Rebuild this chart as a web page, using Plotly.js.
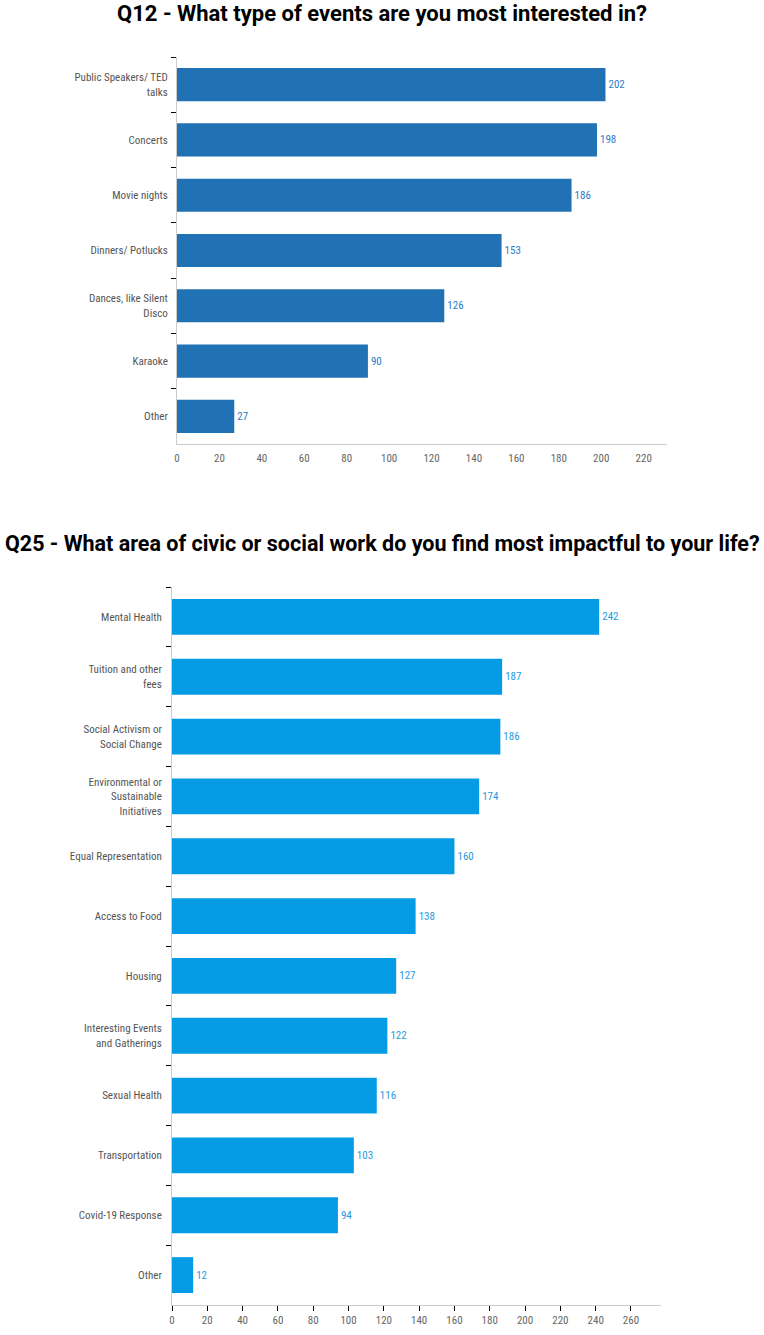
<!DOCTYPE html>
<html>
<head>
<meta charset="utf-8">
<script src="https://cdn.plot.ly/plotly-3.0.1.min.js"></script>
<style>html,body{margin:0;padding:0;background:#fff;}#chart{width:764px;height:1335px;}</style>
</head>
<body>
<div id="chart"></div>
<script>
const q12Title = "Q12 - What type of events are you most interested in?";
const q12Categories = ["Public Speakers/ TED<br>talks", "Concerts", "Movie nights", "Dinners/ Potlucks", "Dances, like Silent<br>Disco", "Karaoke", "Other"];
const q12Values = [202, 198, 186, 153, 126, 90, 27];

const q25Title = "Q25 - What area of civic or social work do you find most impactful to your life?";
const q25Categories = ["Mental Health", "Tuition and other<br>fees", "Social Activism or<br>Social Change", "Environmental or<br>Sustainable<br>Initiatives", "Equal Representation", "Access to Food", "Housing", "Interesting Events<br>and Gatherings", "Sexual Health", "Transportation", "Covid-19 Response", "Other"];
const q25Values = [242, 187, 186, 174, 160, 138, 127, 122, 116, 103, 94, 12];

const FONT = "'Liberation Sans Narrow', 'Roboto Condensed', Roboto, sans-serif";
const H = 1335, W = 764;

const traces = [
  {
    type: 'bar', orientation: 'h',
    x: q12Values, y: q12Categories,
    xaxis: 'x', yaxis: 'y',
    marker: {color: '#2171b5'},
    text: q12Values.map(String), textposition: 'outside',
    textfont: {family: FONT, size: 11, color: '#2b7bc9'},
    cliponaxis: false, hoverinfo: 'skip'
  },
  {
    type: 'bar', orientation: 'h',
    x: q25Values, y: q25Categories,
    xaxis: 'x2', yaxis: 'y2',
    marker: {color: '#069be5'},
    text: q25Values.map(String), textposition: 'outside',
    textfont: {family: FONT, size: 11, color: '#1f9be0'},
    cliponaxis: false, hoverinfo: 'skip'
  }
];

const yCommon = {
  type: 'category', autorange: 'reversed',
  showline: true, linecolor: '#cccccc', linewidth: 1,
  ticks: 'outside', tickson: 'boundaries', ticklen: 5, tickcolor: '#000', tickwidth: 1,
  showgrid: false, zeroline: false,
  tickfont: {family: FONT, size: 11, color: '#555'},
  fixedrange: true
};

const layout = {
  width: W, height: H,
  margin: {l: 0, r: 0, t: 0, b: 0},
  paper_bgcolor: '#fff', plot_bgcolor: '#fff',
  showlegend: false, bargap: 0.4,
  font: {family: FONT},
  xaxis: {
    domain: [177/W, 667/W], anchor: 'y', range: [0, 231],
    dtick: 20, tick0: 0, showgrid: false, zeroline: false,
    showline: true, linecolor: '#cccccc', linewidth: 1,
    ticks: '', ticklabelstandoff: 4,
    tickfont: {family: FONT, size: 11, color: '#666'}, fixedrange: true
  },
  yaxis: Object.assign({}, yCommon, {domain: [1 - 444/H, 1 - 57/H], anchor: 'x', ticklabelstandoff: 6}),
  xaxis2: {
    domain: [172/W, 661/W], anchor: 'y2', range: [0, 277],
    dtick: 20, tick0: 0, showgrid: false, zeroline: false,
    showline: true, linecolor: '#cccccc', linewidth: 1,
    ticks: 'outside', ticklen: 5, tickcolor: '#000', tickwidth: 1,
    tickfont: {family: FONT, size: 11, color: '#666'}, fixedrange: true
  },
  yaxis2: Object.assign({}, yCommon, {domain: [1 - 1305/H, 1 - 587/H], anchor: 'x2', ticklabelstandoff: 7}),
  annotations: [
    {text: '<b>' + q12Title + '</b>', xref: 'paper', yref: 'paper', x: 0.5, y: 1 - 14/H,
     xanchor: 'center', yanchor: 'middle', showarrow: false,
     font: {family: 'Roboto, sans-serif', size: 22, color: '#000'}},
    {text: '<b>' + q25Title + '</b>', xref: 'paper', yref: 'paper', x: 0.5, y: 1 - 544/H,
     xanchor: 'center', yanchor: 'middle', showarrow: false,
     font: {family: 'Roboto, sans-serif', size: 21.5, color: '#000'}}
  ]
};

Plotly.newPlot('chart', traces, layout, {displayModeBar: false, staticPlot: true});
</script>
</body>
</html>
